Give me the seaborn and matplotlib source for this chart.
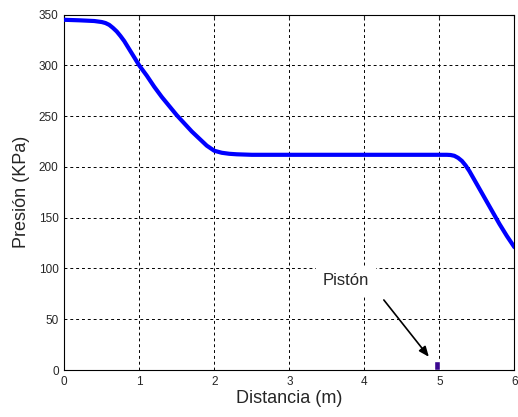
import matplotlib
matplotlib.use("Agg")
import matplotlib.pyplot as plt
import seaborn as sns
import pandas as pd

distancia = [0.0, 0.2, 0.4, 0.5, 0.55, 0.6, 0.65, 0.7, 0.75, 0.8, 0.9, 1.0, 1.1, 1.2, 1.3,
             1.4, 1.5, 1.6, 1.7, 1.8, 1.9, 2.0, 2.1, 2.2, 2.3, 2.5, 3.0, 4.0, 5.0, 5.1,
             5.15, 5.2, 5.25, 5.3, 5.35, 5.4, 5.5, 5.6, 5.7, 5.8, 5.9, 6.0]
presion = [345, 344.5, 343.8, 342.8, 341.8, 340, 337, 333.5, 329, 324, 312, 300, 290, 279, 269,
           260, 251, 243, 235, 228, 221, 216, 214, 213, 212.5, 212, 212, 212, 212, 212,
           211.8, 211, 209, 206, 201.5, 196, 183, 170, 157, 144, 132, 121]

piston_x = [4.975]
piston_h = [8.5]

xticks = [0, 1, 2, 3, 4, 5, 6]
yticks = [0, 50, 100, 150, 200, 250, 300, 350]

sns.set_style("white")
plt.rcParams['font.family'] = ['Liberation Sans', 'DejaVu Sans']

fig = plt.figure(figsize=(5.18, 4.17), dpi=100)
ax = fig.add_axes([0.124, 0.1127, 0.869, 0.852])

df = pd.DataFrame({"x": distancia, "y": presion})
sns.lineplot(data=df, x="x", y="y", ax=ax, color="#0000ff", linewidth=3.0, zorder=3)
ax.bar(piston_x, piston_h, width=0.08, color="#3a0890", zorder=3)

ax.annotate("", xy=(4.86, 13), xytext=(4.26, 69),
            textcoords="data",
            arrowprops=dict(arrowstyle="-|>,head_length=0.6,head_width=0.25",
                            color="black", lw=1.2, shrinkA=0, shrinkB=0))
ax.text(3.45, 88, "Pistón", fontsize=12, ha="left", va="center", zorder=4,
        bbox=dict(facecolor="white", edgecolor="none", pad=5))

ax.set_xlim(0, 6)
ax.set_ylim(0, 350)
ax.set_xticks(xticks)
ax.set_yticks(yticks)
ax.tick_params(direction="in", labelsize=8.5, length=3, top=True, right=True, pad=4)
ax.grid(True, linestyle=(0, (3, 3)), color="black", linewidth=0.7)
for s in ax.spines.values():
    s.set_color("black")
    s.set_linewidth(0.8)
ax.set_xlabel("Distancia (m)", fontsize=13, labelpad=2)
ax.set_ylabel("Presión (KPa)", fontsize=13, labelpad=6)

fig.savefig("out.png", dpi=100)
